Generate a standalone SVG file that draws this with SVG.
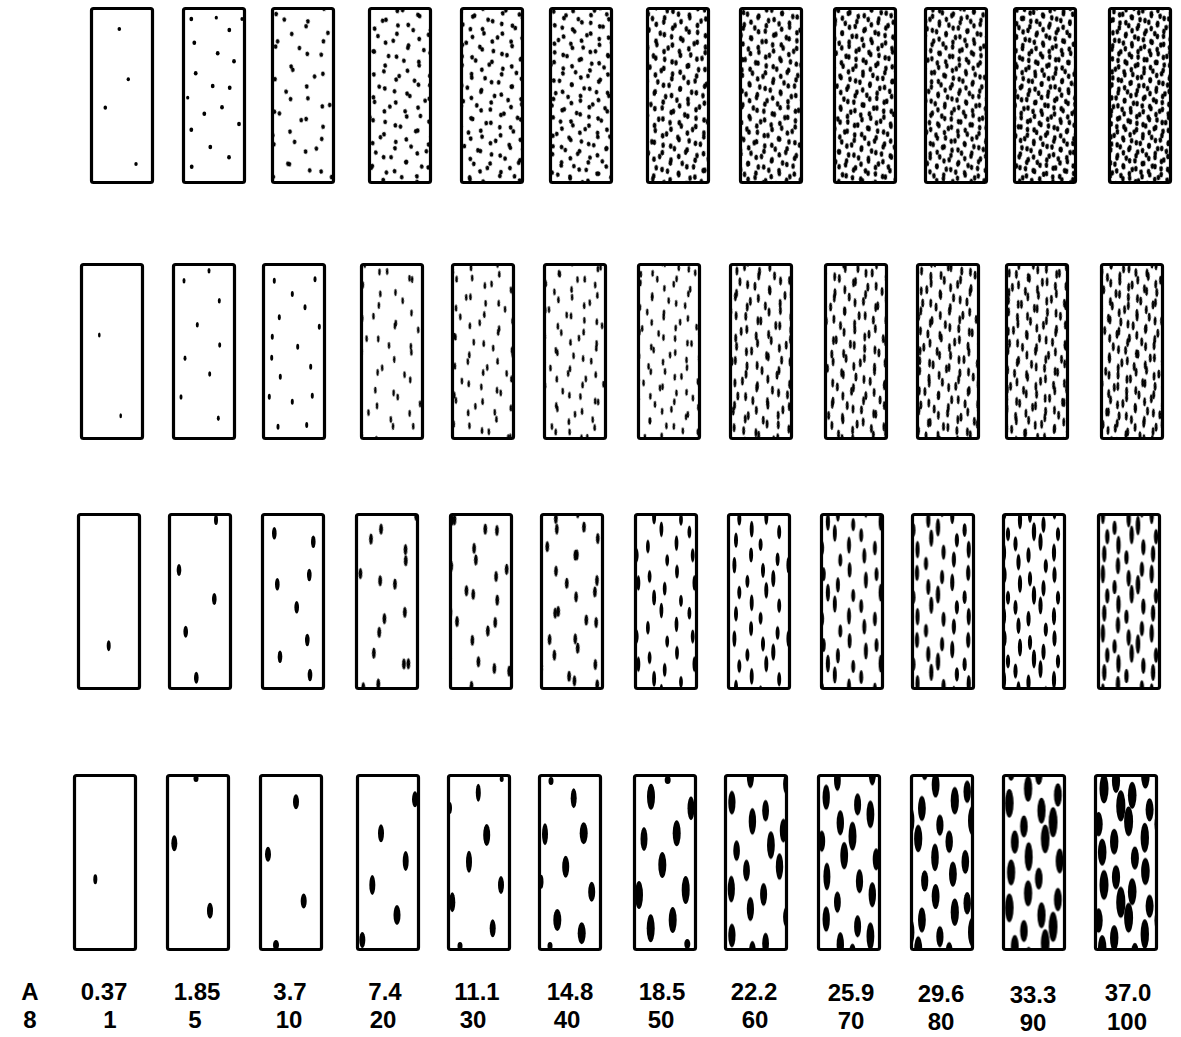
<svg xmlns="http://www.w3.org/2000/svg" xmlns:xlink="http://www.w3.org/1999/xlink" width="1181" height="1037" viewBox="0 0 1181 1037">
<style>
.bx{stroke:#000;stroke-width:3.2}
.o{fill:none}
ellipse{fill:#000}
text{font-family:"Liberation Sans",Arial,sans-serif;font-size:24px;font-weight:bold;fill:#000;text-anchor:middle}
</style>
<defs>
<pattern id="a1" patternUnits="userSpaceOnUse" width="20" height="20" patternTransform="rotate(17)"><ellipse cx="4" cy="4" rx="1.9" ry="2.35" transform="rotate(-17 4 4)"/></pattern>
<pattern id="b1" patternUnits="userSpaceOnUse" width="20" height="20" patternTransform="rotate(-38)"><ellipse cx="4" cy="4" rx="1.9" ry="2.35" transform="rotate(38 4 4)"/></pattern>
<pattern id="a1l" patternUnits="userSpaceOnUse" width="20" height="20" patternTransform="rotate(17)"><ellipse cx="4" cy="4" rx="1.8" ry="2.8" transform="rotate(-17 4 4)"/></pattern>
<pattern id="b1l" patternUnits="userSpaceOnUse" width="20" height="20" patternTransform="rotate(-38)"><ellipse cx="4" cy="4" rx="1.8" ry="2.8" transform="rotate(38 4 4)"/></pattern>
<pattern id="a2" patternUnits="userSpaceOnUse" width="20" height="20" patternTransform="rotate(17)"><ellipse cx="5" cy="6" rx="1.3" ry="3.5" transform="rotate(-17 5 6)"/></pattern>
<pattern id="b2" patternUnits="userSpaceOnUse" width="20" height="20" patternTransform="rotate(-38)"><ellipse cx="5" cy="6" rx="1.3" ry="3.5" transform="rotate(38 5 6)"/></pattern>
<pattern id="a2l" patternUnits="userSpaceOnUse" width="20" height="20" patternTransform="rotate(17)"><ellipse cx="5" cy="6" rx="1.45" ry="4.5" transform="rotate(-17 5 6)"/></pattern>
<pattern id="b2l" patternUnits="userSpaceOnUse" width="20" height="20" patternTransform="rotate(-38)"><ellipse cx="5" cy="6" rx="1.45" ry="4.5" transform="rotate(38 5 6)"/></pattern>
<pattern id="a3" patternUnits="userSpaceOnUse" width="30" height="30" patternTransform="rotate(17)"><ellipse cx="7" cy="10" rx="1.9" ry="5.5" transform="rotate(-17 7 10)"/></pattern>
<pattern id="b3" patternUnits="userSpaceOnUse" width="30" height="30" patternTransform="rotate(-38)"><ellipse cx="7" cy="10" rx="1.9" ry="5.5" transform="rotate(38 7 10)"/></pattern>

<pattern id="p1_3a" xlink:href="#a1" width="22.8" height="22.8"/><pattern id="p1_3b" xlink:href="#b1" width="20.5" height="25.3"/>
<pattern id="p1_4a" xlink:href="#a1" width="16" height="16"/><pattern id="p1_4b" xlink:href="#b1" width="14.4" height="17.8"/>
<pattern id="p1_5a" xlink:href="#a1" width="14.2" height="14.2"/><pattern id="p1_5b" xlink:href="#b1" width="12.8" height="15.8"/>
<pattern id="p1_6a" xlink:href="#a1" width="12.9" height="12.9"/><pattern id="p1_6b" xlink:href="#b1" width="11.6" height="14.3"/>
<pattern id="p1_7a" xlink:href="#a1l" width="11.8" height="11.8"/><pattern id="p1_7b" xlink:href="#b1l" width="10.6" height="13.1"/>
<pattern id="p1_8a" xlink:href="#a1l" width="11" height="11"/><pattern id="p1_8b" xlink:href="#b1l" width="9.9" height="12.2"/>
<pattern id="p1_9a" xlink:href="#a1l" width="10.4" height="10.4"/><pattern id="p1_9b" xlink:href="#b1l" width="9.4" height="11.5"/>
<pattern id="p1_10a" xlink:href="#a1l" width="9.9" height="9.9"/><pattern id="p1_10b" xlink:href="#b1l" width="8.9" height="11"/>
<pattern id="p1_11a" xlink:href="#a1l" width="9.5" height="9.5"/><pattern id="p1_11b" xlink:href="#b1l" width="8.6" height="10.5"/>
<pattern id="p1_12a" xlink:href="#a1l" width="9.1" height="9.1"/><pattern id="p1_12b" xlink:href="#b1l" width="8.2" height="10.1"/>

<pattern id="p2_4a" xlink:href="#a2" width="23.4" height="23.4"/><pattern id="p2_4b" xlink:href="#b2" width="21.1" height="26"/>
<pattern id="p2_5a" xlink:href="#a2" width="20.3" height="20.3"/><pattern id="p2_5b" xlink:href="#b2" width="18.3" height="22.5"/>
<pattern id="p2_6a" xlink:href="#a2" width="18.5" height="18.5"/><pattern id="p2_6b" xlink:href="#b2" width="16.7" height="20.5"/>
<pattern id="p2_7a" xlink:href="#a2" width="17.2" height="17.2"/><pattern id="p2_7b" xlink:href="#b2" width="15.5" height="19.1"/>
<pattern id="p2_8a" xlink:href="#a2l" width="15.7" height="15.7"/><pattern id="p2_8b" xlink:href="#b2l" width="14.1" height="17.4"/>
<pattern id="p2_9a" xlink:href="#a2l" width="14.9" height="14.9"/><pattern id="p2_9b" xlink:href="#b2l" width="13.4" height="16.5"/>
<pattern id="p2_10a" xlink:href="#a2l" width="14" height="14"/><pattern id="p2_10b" xlink:href="#b2l" width="12.6" height="15.5"/>
<pattern id="p2_11a" xlink:href="#a2l" width="13.6" height="13.6"/><pattern id="p2_11b" xlink:href="#b2l" width="12.2" height="15.1"/>
<pattern id="p2_12a" xlink:href="#a2l" width="12.9" height="12.9"/><pattern id="p2_12b" xlink:href="#b2l" width="11.6" height="14.3"/>

<pattern id="p3_4a" xlink:href="#a3" width="36.1" height="36.1"/><pattern id="p3_4b" xlink:href="#b3" width="32.5" height="40.1"/>
<pattern id="p3_5a" xlink:href="#a3" width="32.2" height="32.2"/><pattern id="p3_5b" xlink:href="#b3" width="29" height="35.7"/>
<pattern id="p3_6a" xlink:href="#a3" width="29.4" height="29.4"/><pattern id="p3_6b" xlink:href="#b3" width="26.5" height="32.6"/>

<pattern id="q3_7" patternUnits="userSpaceOnUse" width="56" height="81.2"><ellipse cx="5" cy="3.2" rx="1.9" ry="7"/><ellipse cx="5" cy="84.4" rx="1.9" ry="7"/><ellipse cx="9" cy="32.5" rx="1.9" ry="6"/><ellipse cx="4.5" cy="56" rx="1.9" ry="7.7"/><ellipse cx="22.4" cy="14.6" rx="1.9" ry="7.7"/><ellipse cx="17.4" cy="44.7" rx="1.9" ry="6.3"/><ellipse cx="20.7" cy="68.2" rx="1.9" ry="7"/><ellipse cx="33.6" cy="8.1" rx="1.9" ry="6.3"/><ellipse cx="38.1" cy="29.2" rx="2" ry="8"/><ellipse cx="31.9" cy="59.3" rx="1.9" ry="6.7"/><ellipse cx="48.7" cy="20.3" rx="1.9" ry="7"/><ellipse cx="45.4" cy="42.2" rx="1.9" ry="7.7"/><ellipse cx="51.2" cy="73.1" rx="1.9" ry="6"/></pattern>
<pattern id="q3_8" patternUnits="userSpaceOnUse" width="54" height="73.6"><ellipse cx="49.1" cy="39.7" rx="2" ry="7.5"/><ellipse cx="45.4" cy="66.2" rx="2" ry="6.4"/><ellipse cx="49.7" cy="14" rx="2" ry="8.3"/><ellipse cx="32.4" cy="50" rx="2" ry="8.3"/><ellipse cx="37.3" cy="3.7" rx="2" ry="6.8"/><ellipse cx="37.3" cy="77.3" rx="2" ry="6.8"/><ellipse cx="34" cy="25" rx="2" ry="7.5"/><ellipse cx="21.6" cy="44.2" rx="2" ry="6.8"/><ellipse cx="17.3" cy="63.3" rx="2.1" ry="8.6"/><ellipse cx="23.2" cy="16.9" rx="2" ry="7.1"/><ellipse cx="7" cy="55.2" rx="2" ry="7.5"/><ellipse cx="10.3" cy="1.5" rx="2" ry="8.3"/><ellipse cx="10.3" cy="75.1" rx="2" ry="8.3"/><ellipse cx="4.6" cy="29.4" rx="2" ry="6.4"/></pattern>
<pattern id="q3_9" patternUnits="userSpaceOnUse" width="52.8" height="70.9"><ellipse cx="4.8" cy="2.8" rx="2" ry="7.8"/><ellipse cx="4.8" cy="73.7" rx="2" ry="7.8"/><ellipse cx="8.4" cy="28.4" rx="2" ry="6.6"/><ellipse cx="4.2" cy="48.9" rx="2" ry="8.6"/><ellipse cx="21.1" cy="12.8" rx="2" ry="8.6"/><ellipse cx="16.4" cy="39" rx="2" ry="7"/><ellipse cx="19.5" cy="59.6" rx="2" ry="7.8"/><ellipse cx="31.7" cy="7.1" rx="2" ry="7"/><ellipse cx="35.9" cy="25.5" rx="2.1" ry="9"/><ellipse cx="30.1" cy="51.8" rx="2" ry="7.4"/><ellipse cx="45.9" cy="17.7" rx="2" ry="7.8"/><ellipse cx="42.8" cy="36.9" rx="2" ry="8.6"/><ellipse cx="48.3" cy="63.8" rx="2" ry="6.6"/></pattern>
<pattern id="q3_10" patternUnits="userSpaceOnUse" width="51.2" height="67.1"><ellipse cx="46.6" cy="36.2" rx="2.1" ry="8"/><ellipse cx="43" cy="60.4" rx="2.1" ry="6.8"/><ellipse cx="43" cy="-6.7" rx="2.1" ry="6.8"/><ellipse cx="47.1" cy="12.7" rx="2.1" ry="8.8"/><ellipse cx="30.7" cy="45.6" rx="2.1" ry="8.8"/><ellipse cx="35.3" cy="3.4" rx="2.1" ry="7.2"/><ellipse cx="35.3" cy="70.5" rx="2.1" ry="7.2"/><ellipse cx="32.3" cy="22.8" rx="2.1" ry="8"/><ellipse cx="20.5" cy="40.3" rx="2.1" ry="7.2"/><ellipse cx="16.4" cy="57.7" rx="2.2" ry="9.2"/><ellipse cx="22" cy="15.4" rx="2.1" ry="7.6"/><ellipse cx="6.7" cy="50.3" rx="2.1" ry="8"/><ellipse cx="9.7" cy="1.3" rx="2.1" ry="8.8"/><ellipse cx="9.7" cy="68.4" rx="2.1" ry="8.8"/><ellipse cx="4.4" cy="26.8" rx="2.1" ry="6.8"/></pattern>
<pattern id="q3_11" patternUnits="userSpaceOnUse" width="50" height="63.6"><ellipse cx="4.5" cy="2.5" rx="2.1" ry="8.2"/><ellipse cx="4.5" cy="66.1" rx="2.1" ry="8.2"/><ellipse cx="8" cy="25.4" rx="2.1" ry="7"/><ellipse cx="4" cy="43.9" rx="2.1" ry="9"/><ellipse cx="20" cy="11.4" rx="2.1" ry="9"/><ellipse cx="15.5" cy="35" rx="2.1" ry="7.4"/><ellipse cx="18.5" cy="53.4" rx="2.1" ry="8.2"/><ellipse cx="30" cy="6.4" rx="2.1" ry="7.4"/><ellipse cx="30" cy="70" rx="2.1" ry="7.4"/><ellipse cx="34" cy="22.9" rx="2.2" ry="9.4"/><ellipse cx="28.5" cy="46.4" rx="2.1" ry="7.8"/><ellipse cx="43.5" cy="15.9" rx="2.1" ry="8.2"/><ellipse cx="40.5" cy="33.1" rx="2.1" ry="9"/><ellipse cx="45.8" cy="57.2" rx="2.1" ry="7"/><ellipse cx="45.8" cy="-6.4" rx="2.1" ry="7"/></pattern>
<pattern id="q3_12" patternUnits="userSpaceOnUse" width="48.8" height="59.3"><ellipse cx="44.4" cy="32" rx="2.2" ry="8.5"/><ellipse cx="41" cy="53.4" rx="2.2" ry="7.2"/><ellipse cx="41" cy="-5.9" rx="2.2" ry="7.2"/><ellipse cx="44.9" cy="11.3" rx="2.2" ry="9.4"/><ellipse cx="29.3" cy="40.3" rx="2.2" ry="9.4"/><ellipse cx="33.7" cy="3" rx="2.2" ry="7.7"/><ellipse cx="33.7" cy="62.3" rx="2.2" ry="7.7"/><ellipse cx="30.7" cy="20.2" rx="2.2" ry="8.5"/><ellipse cx="19.5" cy="35.6" rx="2.2" ry="7.7"/><ellipse cx="15.6" cy="51" rx="2.3" ry="9.8"/><ellipse cx="15.6" cy="-8.3" rx="2.3" ry="9.8"/><ellipse cx="21" cy="13.6" rx="2.2" ry="8.1"/><ellipse cx="6.3" cy="44.5" rx="2.2" ry="8.5"/><ellipse cx="9.3" cy="1.2" rx="2.2" ry="9.4"/><ellipse cx="9.3" cy="60.5" rx="2.2" ry="9.4"/><ellipse cx="4.1" cy="23.7" rx="2.2" ry="7.2"/></pattern>

<pattern id="q4_8" patternUnits="userSpaceOnUse" width="66" height="132.9"><ellipse cx="5.9" cy="5.3" rx="3.6" ry="12"/><ellipse cx="5.9" cy="138.2" rx="3.6" ry="12"/><ellipse cx="10.6" cy="53.2" rx="3.3" ry="10.2"/><ellipse cx="5.3" cy="91.7" rx="3.6" ry="13.2"/><ellipse cx="26.4" cy="23.9" rx="3.7" ry="13.2"/><ellipse cx="20.5" cy="73.1" rx="3.4" ry="10.8"/><ellipse cx="24.4" cy="111.6" rx="3.6" ry="12"/><ellipse cx="39.6" cy="13.3" rx="3.4" ry="10.8"/><ellipse cx="44.9" cy="47.8" rx="3.9" ry="13.8"/><ellipse cx="37.6" cy="97" rx="3.5" ry="11.4"/><ellipse cx="57.4" cy="33.2" rx="3.6" ry="12"/><ellipse cx="53.5" cy="69.1" rx="3.7" ry="13.2"/><ellipse cx="60.4" cy="119.6" rx="3.3" ry="10.2"/></pattern>
<pattern id="q4_9" patternUnits="userSpaceOnUse" width="64" height="121.9"><ellipse cx="58.2" cy="65.8" rx="3.7" ry="12.5"/><ellipse cx="53.8" cy="109.7" rx="3.4" ry="10.6"/><ellipse cx="58.9" cy="23.2" rx="3.5" ry="13.7"/><ellipse cx="38.4" cy="82.9" rx="3.9" ry="13.7"/><ellipse cx="44.2" cy="6.1" rx="3.5" ry="11.2"/><ellipse cx="44.2" cy="128" rx="3.5" ry="11.2"/><ellipse cx="40.3" cy="41.4" rx="3.7" ry="12.5"/><ellipse cx="25.6" cy="73.1" rx="3.5" ry="11.2"/><ellipse cx="20.5" cy="104.8" rx="4" ry="14.4"/><ellipse cx="27.5" cy="28" rx="3.6" ry="11.9"/><ellipse cx="8.3" cy="91.4" rx="3.7" ry="12.5"/><ellipse cx="12.2" cy="2.4" rx="3.9" ry="13.7"/><ellipse cx="12.2" cy="124.3" rx="3.9" ry="13.7"/><ellipse cx="5.4" cy="48.8" rx="3.4" ry="10.6"/></pattern>
<pattern id="q4_10" patternUnits="userSpaceOnUse" width="62" height="111.5"><ellipse cx="5.6" cy="4.5" rx="3.9" ry="12.5"/><ellipse cx="5.6" cy="116" rx="3.9" ry="12.5"/><ellipse cx="9.9" cy="44.6" rx="3.6" ry="10.6"/><ellipse cx="5" cy="76.9" rx="3.8" ry="13.7"/><ellipse cx="24.8" cy="20.1" rx="4.1" ry="13.7"/><ellipse cx="19.2" cy="61.3" rx="3.7" ry="11.2"/><ellipse cx="22.9" cy="93.7" rx="3.9" ry="12.5"/><ellipse cx="37.2" cy="11.2" rx="3.7" ry="11.2"/><ellipse cx="37.2" cy="122.7" rx="3.7" ry="11.2"/><ellipse cx="42.2" cy="40.1" rx="4.2" ry="14.4"/><ellipse cx="35.3" cy="81.4" rx="3.8" ry="11.9"/><ellipse cx="53.9" cy="27.9" rx="3.9" ry="12.5"/><ellipse cx="50.2" cy="58" rx="4.1" ry="13.7"/><ellipse cx="56.7" cy="100.4" rx="3.6" ry="10.6"/></pattern>
<pattern id="q4_11" patternUnits="userSpaceOnUse" width="60.8" height="104.6"><ellipse cx="55.3" cy="56.5" rx="4.1" ry="13"/><ellipse cx="51.1" cy="94.1" rx="3.8" ry="11"/><ellipse cx="51.1" cy="-10.5" rx="3.8" ry="11"/><ellipse cx="55.9" cy="19.9" rx="4" ry="14.3"/><ellipse cx="36.5" cy="71.1" rx="4.3" ry="14.3"/><ellipse cx="42" cy="5.2" rx="3.9" ry="11.7"/><ellipse cx="42" cy="109.8" rx="3.9" ry="11.7"/><ellipse cx="38.3" cy="35.6" rx="4.1" ry="13"/><ellipse cx="24.3" cy="62.8" rx="3.9" ry="11.7"/><ellipse cx="19.5" cy="90" rx="4.4" ry="15"/><ellipse cx="19.5" cy="-14.6" rx="4.4" ry="15"/><ellipse cx="26.1" cy="24.1" rx="4" ry="12.4"/><ellipse cx="7.9" cy="78.5" rx="4.1" ry="13"/><ellipse cx="11.6" cy="2.1" rx="4.3" ry="14.3"/><ellipse cx="11.6" cy="106.7" rx="4.3" ry="14.3"/><ellipse cx="5.2" cy="41.8" rx="3.8" ry="11"/></pattern>
<pattern id="q4_12" patternUnits="userSpaceOnUse" width="60" height="96.4"><ellipse cx="5.4" cy="3.9" rx="4.3" ry="13.5"/><ellipse cx="5.4" cy="100.3" rx="4.3" ry="13.5"/><ellipse cx="9.6" cy="38.6" rx="4" ry="11.5"/><ellipse cx="4.8" cy="66.5" rx="4.2" ry="14.9"/><ellipse cx="24" cy="17.4" rx="4.5" ry="14.9"/><ellipse cx="18.6" cy="53" rx="4.1" ry="12.2"/><ellipse cx="22.2" cy="81" rx="4.3" ry="13.5"/><ellipse cx="36" cy="9.6" rx="4.1" ry="12.2"/><ellipse cx="36" cy="106" rx="4.1" ry="12.2"/><ellipse cx="40.8" cy="34.7" rx="4.6" ry="15.5"/><ellipse cx="34.2" cy="70.4" rx="4.2" ry="12.8"/><ellipse cx="52.2" cy="24.1" rx="4.3" ry="13.5"/><ellipse cx="48.6" cy="50.1" rx="4.5" ry="14.9"/><ellipse cx="54.9" cy="86.8" rx="4" ry="11.5"/><ellipse cx="54.9" cy="-9.6" rx="4" ry="11.5"/></pattern>
</defs>
<rect width="1181" height="1037" fill="#fff"/>

<!-- Row 1 -->
<g id="r1c1"><ellipse cx="119.3" cy="29" rx="1.8" ry="2.1"/><ellipse cx="128.3" cy="79.3" rx="1.7" ry="2"/><ellipse cx="105.3" cy="107.7" rx="1.8" ry="2.1"/><ellipse cx="136" cy="164" rx="1.7" ry="2"/><rect class="bx o" x="91.5" y="8.5" width="61" height="174" rx="2"/></g>
<g id="r1c2"><ellipse cx="191.3" cy="19" rx="1.9" ry="2.2"/><ellipse cx="216.3" cy="17.7" rx="1.6" ry="1.9"/><ellipse cx="242" cy="19" rx="1.6" ry="1.9"/><ellipse cx="229.3" cy="30" rx="1.9" ry="2.2"/><ellipse cx="194.3" cy="42.7" rx="1.9" ry="2.2"/><ellipse cx="217.7" cy="53.3" rx="1.9" ry="2.2"/><ellipse cx="234" cy="61.3" rx="1.9" ry="2.2"/><ellipse cx="195.7" cy="73.3" rx="1.9" ry="2.2"/><ellipse cx="212.7" cy="86" rx="1.9" ry="2.2"/><ellipse cx="229.7" cy="87.7" rx="1.9" ry="2.2"/><ellipse cx="187.7" cy="97.7" rx="1.6" ry="1.9"/><ellipse cx="204.3" cy="113.7" rx="1.9" ry="2.2"/><ellipse cx="222" cy="107.3" rx="1.9" ry="2.2"/><ellipse cx="239" cy="124" rx="1.9" ry="2.2"/><ellipse cx="191.3" cy="129.7" rx="1.9" ry="2.2"/><ellipse cx="210.3" cy="147" rx="1.9" ry="2.2"/><ellipse cx="229" cy="157.3" rx="1.9" ry="2.2"/><ellipse cx="191.7" cy="166.7" rx="1.9" ry="2.2"/><rect class="bx o" x="183.5" y="8.5" width="61" height="174" rx="2"/></g>
<g id="r1c3"><rect x="272.5" y="8.5" width="61" height="174" fill="url(#p1_3a)"/><rect class="bx" x="272.5" y="8.5" width="61" height="174" rx="2" fill="url(#p1_3b)"/></g>
<g id="r1c4"><rect x="369.5" y="8.5" width="61" height="174" fill="url(#p1_4a)"/><rect class="bx" x="369.5" y="8.5" width="61" height="174" rx="2" fill="url(#p1_4b)"/></g>
<g id="r1c5"><rect x="461.5" y="8.5" width="61" height="174" fill="url(#p1_5a)"/><rect class="bx" x="461.5" y="8.5" width="61" height="174" rx="2" fill="url(#p1_5b)"/></g>
<g id="r1c6"><rect x="550.5" y="8.5" width="61" height="174" fill="url(#p1_6a)"/><rect class="bx" x="550.5" y="8.5" width="61" height="174" rx="2" fill="url(#p1_6b)"/></g>
<g id="r1c7"><rect x="647.5" y="8.5" width="61" height="174" fill="url(#p1_7a)"/><rect class="bx" x="647.5" y="8.5" width="61" height="174" rx="2" fill="url(#p1_7b)"/></g>
<g id="r1c8"><rect x="740.5" y="8.5" width="61" height="174" fill="url(#p1_8a)"/><rect class="bx" x="740.5" y="8.5" width="61" height="174" rx="2" fill="url(#p1_8b)"/></g>
<g id="r1c9"><rect x="834.5" y="8.5" width="61" height="174" fill="url(#p1_9a)"/><rect class="bx" x="834.5" y="8.5" width="61" height="174" rx="2" fill="url(#p1_9b)"/></g>
<g id="r1c10"><rect x="925.5" y="8.5" width="61" height="174" fill="url(#p1_10a)"/><rect class="bx" x="925.5" y="8.5" width="61" height="174" rx="2" fill="url(#p1_10b)"/></g>
<g id="r1c11"><rect x="1014.5" y="8.5" width="61" height="174" fill="url(#p1_11a)"/><rect class="bx" x="1014.5" y="8.5" width="61" height="174" rx="2" fill="url(#p1_11b)"/></g>
<g id="r1c12"><rect x="1109.5" y="8.5" width="61" height="174" fill="url(#p1_12a)"/><rect class="bx" x="1109.5" y="8.5" width="61" height="174" rx="2" fill="url(#p1_12b)"/></g>

<!-- Row 2 -->
<g id="r2c1"><ellipse cx="99.3" cy="335" rx="1.3" ry="2.5"/><ellipse cx="120.7" cy="415.7" rx="1.3" ry="2.5"/><rect class="bx o" x="81.5" y="264.5" width="61" height="174" rx="2"/></g>
<g id="r2c2"><ellipse cx="209" cy="270.7" rx="1.5" ry="2.8"/><ellipse cx="184" cy="280.7" rx="1.5" ry="2.8"/><ellipse cx="219.3" cy="300.7" rx="1.5" ry="2.8"/><ellipse cx="197.3" cy="324.7" rx="1.5" ry="2.8"/><ellipse cx="219.7" cy="345" rx="1.5" ry="2.8"/><ellipse cx="185" cy="358.3" rx="1.5" ry="2.8"/><ellipse cx="209.7" cy="374" rx="1.5" ry="2.8"/><ellipse cx="181" cy="397" rx="1.5" ry="2.8"/><ellipse cx="218.3" cy="418.3" rx="1.5" ry="2.8"/><rect class="bx o" x="173.5" y="264.5" width="61" height="174" rx="2"/></g>
<g id="r2c3"><ellipse cx="274.3" cy="280.7" rx="1.5" ry="3"/><ellipse cx="315" cy="279.3" rx="1.5" ry="3"/><ellipse cx="292.3" cy="294" rx="1.5" ry="3"/><ellipse cx="305" cy="307.3" rx="1.5" ry="3"/><ellipse cx="279.3" cy="317.3" rx="1.5" ry="3"/><ellipse cx="319.3" cy="326.7" rx="1.5" ry="3"/><ellipse cx="272.3" cy="336.7" rx="1.5" ry="3"/><ellipse cx="297.7" cy="346.7" rx="1.5" ry="3"/><ellipse cx="271.7" cy="357.7" rx="1.5" ry="3"/><ellipse cx="310.7" cy="366.7" rx="1.5" ry="3"/><ellipse cx="280.3" cy="376.7" rx="1.5" ry="3"/><ellipse cx="269.3" cy="396.7" rx="1.5" ry="3"/><ellipse cx="292.3" cy="401.7" rx="1.5" ry="3"/><ellipse cx="312.3" cy="395.7" rx="1.5" ry="3"/><ellipse cx="278" cy="426.7" rx="1.5" ry="3"/><ellipse cx="306.7" cy="425" rx="1.5" ry="3"/><rect class="bx o" x="263.5" y="264.5" width="61" height="174" rx="2"/></g>
<g id="r2c4"><rect x="361.5" y="264.5" width="61" height="174" fill="url(#p2_4a)"/><rect class="bx" x="361.5" y="264.5" width="61" height="174" rx="2" fill="url(#p2_4b)"/></g>
<g id="r2c5"><rect x="452.5" y="264.5" width="61" height="174" fill="url(#p2_5a)"/><rect class="bx" x="452.5" y="264.5" width="61" height="174" rx="2" fill="url(#p2_5b)"/></g>
<g id="r2c6"><rect x="544.5" y="264.5" width="61" height="174" fill="url(#p2_6a)"/><rect class="bx" x="544.5" y="264.5" width="61" height="174" rx="2" fill="url(#p2_6b)"/></g>
<g id="r2c7"><rect x="638.5" y="264.5" width="61" height="174" fill="url(#p2_7a)"/><rect class="bx" x="638.5" y="264.5" width="61" height="174" rx="2" fill="url(#p2_7b)"/></g>
<g id="r2c8"><rect x="730.5" y="264.5" width="61" height="174" fill="url(#p2_8a)"/><rect class="bx" x="730.5" y="264.5" width="61" height="174" rx="2" fill="url(#p2_8b)"/></g>
<g id="r2c9"><rect x="825.5" y="264.5" width="61" height="174" fill="url(#p2_9a)"/><rect class="bx" x="825.5" y="264.5" width="61" height="174" rx="2" fill="url(#p2_9b)"/></g>
<g id="r2c10"><rect x="917.5" y="264.5" width="61" height="174" fill="url(#p2_10a)"/><rect class="bx" x="917.5" y="264.5" width="61" height="174" rx="2" fill="url(#p2_10b)"/></g>
<g id="r2c11"><rect x="1006.5" y="264.5" width="61" height="174" fill="url(#p2_11a)"/><rect class="bx" x="1006.5" y="264.5" width="61" height="174" rx="2" fill="url(#p2_11b)"/></g>
<g id="r2c12"><rect x="1101.5" y="264.5" width="61" height="174" fill="url(#p2_12a)"/><rect class="bx" x="1101.5" y="264.5" width="61" height="174" rx="2" fill="url(#p2_12b)"/></g>

<!-- Row 3 -->
<g id="r3c1"><ellipse cx="108.7" cy="645.7" rx="2" ry="5.5"/><rect class="bx o" x="78.5" y="514.5" width="61" height="174" rx="2"/></g>
<g id="r3c2"><ellipse cx="216" cy="520" rx="2" ry="5"/><ellipse cx="179" cy="570" rx="2.3" ry="6"/><ellipse cx="214.3" cy="599" rx="2.3" ry="6"/><ellipse cx="185.7" cy="631.7" rx="2.3" ry="6"/><ellipse cx="196.3" cy="677.7" rx="2.3" ry="6"/><rect class="bx o" x="169.5" y="514.5" width="61" height="174" rx="2"/></g>
<g id="r3c3"><ellipse cx="274.3" cy="533.3" rx="2.3" ry="6.3"/><ellipse cx="313.3" cy="541.7" rx="2.3" ry="6.3"/><ellipse cx="309.3" cy="575" rx="2.3" ry="6.3"/><ellipse cx="277.3" cy="584.3" rx="2.3" ry="6.3"/><ellipse cx="296.7" cy="607.3" rx="2.3" ry="6.3"/><ellipse cx="307.3" cy="640" rx="2.3" ry="6.3"/><ellipse cx="280" cy="656.7" rx="2.3" ry="6.3"/><ellipse cx="310" cy="675" rx="2.3" ry="6.3"/><rect class="bx o" x="262.5" y="514.5" width="61" height="174" rx="2"/></g>
<g id="r3c4"><rect x="356.5" y="514.5" width="61" height="174" fill="url(#p3_4a)"/><rect class="bx" x="356.5" y="514.5" width="61" height="174" rx="2" fill="url(#p3_4b)"/></g>
<g id="r3c5"><rect x="450.5" y="514.5" width="61" height="174" fill="url(#p3_5a)"/><rect class="bx" x="450.5" y="514.5" width="61" height="174" rx="2" fill="url(#p3_5b)"/></g>
<g id="r3c6"><rect x="541.5" y="514.5" width="61" height="174" fill="url(#p3_6a)"/><rect class="bx" x="541.5" y="514.5" width="61" height="174" rx="2" fill="url(#p3_6b)"/></g>
<g id="r3c7"><rect class="bx" x="635.5" y="514.5" width="61" height="174" rx="2" fill="url(#q3_7)"/></g>
<g id="r3c8"><rect class="bx" x="728.5" y="514.5" width="61" height="174" rx="2" fill="url(#q3_8)"/></g>
<g id="r3c9"><rect class="bx" x="821.5" y="514.5" width="61" height="174" rx="2" fill="url(#q3_9)"/></g>
<g id="r3c10"><rect class="bx" x="912.5" y="514.5" width="61" height="174" rx="2" fill="url(#q3_10)"/></g>
<g id="r3c11"><rect class="bx" x="1003.5" y="514.5" width="61" height="174" rx="2" fill="url(#q3_11)"/></g>
<g id="r3c12"><rect class="bx" x="1098.5" y="514.5" width="61" height="174" rx="2" fill="url(#q3_12)"/></g>

<!-- Row 4 -->
<g id="r4c1"><ellipse cx="95.3" cy="879.3" rx="2" ry="5"/><rect class="bx o" x="74.5" y="775.5" width="61" height="174" rx="2"/></g>
<g id="r4c2"><ellipse cx="196" cy="778.5" rx="2.5" ry="3.5"/><ellipse cx="174.3" cy="843.3" rx="3" ry="8"/><ellipse cx="210" cy="910.7" rx="3" ry="8"/><rect class="bx o" x="167.5" y="775.5" width="61" height="174" rx="2"/></g>
<g id="r4c3"><ellipse cx="296" cy="801.7" rx="3" ry="7.5"/><ellipse cx="268" cy="854.3" rx="3" ry="7.5"/><ellipse cx="303.7" cy="901" rx="3" ry="7.5"/><ellipse cx="276" cy="945" rx="3" ry="5"/><rect class="bx o" x="260.5" y="775.5" width="61" height="174" rx="2"/></g>
<g id="r4c4"><ellipse cx="415" cy="799.3" rx="3" ry="8"/><ellipse cx="381" cy="833.3" rx="3" ry="9"/><ellipse cx="405.7" cy="861" rx="3" ry="10"/><ellipse cx="372.3" cy="885" rx="3" ry="10"/><ellipse cx="397" cy="915" rx="3.5" ry="10"/><ellipse cx="362.3" cy="940" rx="3" ry="8"/><rect class="bx o" x="357.5" y="775.5" width="61" height="174" rx="2"/></g>
<g id="r4c5"><ellipse cx="501.7" cy="779" rx="2" ry="3"/><ellipse cx="478.3" cy="792.7" rx="2.5" ry="9"/><ellipse cx="450" cy="808" rx="2" ry="6"/><ellipse cx="486.7" cy="835" rx="3.5" ry="11"/><ellipse cx="469" cy="861.7" rx="3" ry="11"/><ellipse cx="501" cy="885" rx="3" ry="9"/><ellipse cx="452.3" cy="902.3" rx="3" ry="10"/><ellipse cx="492.7" cy="928.3" rx="3" ry="9"/><ellipse cx="460" cy="946" rx="2.5" ry="4"/><rect class="bx o" x="448.5" y="775.5" width="61" height="174" rx="2"/></g>
<g id="r4c6"><ellipse cx="551" cy="781" rx="2.5" ry="4"/><ellipse cx="573.7" cy="798.3" rx="3" ry="10"/><ellipse cx="545" cy="834.3" rx="3" ry="11"/><ellipse cx="583.7" cy="833.3" rx="4" ry="11"/><ellipse cx="565.7" cy="866.7" rx="3.5" ry="11"/><ellipse cx="541.5" cy="881.7" rx="2" ry="7"/><ellipse cx="591.7" cy="891.7" rx="3.5" ry="10"/><ellipse cx="557.3" cy="920" rx="4" ry="11"/><ellipse cx="581.7" cy="933.3" rx="4" ry="11"/><ellipse cx="550" cy="946" rx="2.5" ry="4"/><rect class="bx o" x="539.5" y="775.5" width="61" height="174" rx="2"/></g>
<g id="r4c7"><ellipse cx="667.7" cy="780" rx="3" ry="4"/><ellipse cx="651" cy="796.7" rx="4" ry="13"/><ellipse cx="691" cy="808.3" rx="3.5" ry="12"/><ellipse cx="644" cy="839" rx="3.5" ry="12"/><ellipse cx="676.7" cy="833.3" rx="4" ry="13"/><ellipse cx="662.3" cy="865" rx="4" ry="13"/><ellipse cx="639" cy="895" rx="4" ry="14"/><ellipse cx="685.7" cy="890" rx="4" ry="14"/><ellipse cx="650.7" cy="928.3" rx="4" ry="14"/><ellipse cx="672.7" cy="920" rx="4" ry="13"/><ellipse cx="687.3" cy="944" rx="3" ry="5"/><rect class="bx o" x="634.5" y="775.5" width="61" height="174" rx="2"/></g>
<g id="r4c8"><rect class="bx" x="725.5" y="775.5" width="61" height="174" rx="2" fill="url(#q4_8)"/></g>
<g id="r4c9"><rect class="bx" x="818.5" y="775.5" width="61" height="174" rx="2" fill="url(#q4_9)"/></g>
<g id="r4c10"><rect class="bx" x="911.5" y="775.5" width="61" height="174" rx="2" fill="url(#q4_10)"/></g>
<g id="r4c11"><rect class="bx" x="1003.5" y="775.5" width="61" height="174" rx="2" fill="url(#q4_11)"/></g>
<g id="r4c12"><rect class="bx" x="1095.5" y="775.5" width="61" height="174" rx="2" fill="url(#q4_12)"/></g>

<g id="labels">
<text x="30" y="1000">A</text>
<text x="104" y="1000">0.37</text>
<text x="197" y="1000">1.85</text>
<text x="290" y="1000">3.7</text>
<text x="385" y="1000">7.4</text>
<text x="477" y="1000">11.1</text>
<text x="570" y="1000">14.8</text>
<text x="662" y="1000">18.5</text>
<text x="754" y="1000">22.2</text>
<text x="851" y="1001">25.9</text>
<text x="941" y="1002">29.6</text>
<text x="1033" y="1003">33.3</text>
<text x="1128" y="1001">37.0</text>
<text x="30" y="1028">8</text>
<text x="110" y="1028">1</text>
<text x="195" y="1028">5</text>
<text x="289" y="1028">10</text>
<text x="383" y="1028">20</text>
<text x="473" y="1028">30</text>
<text x="567" y="1028">40</text>
<text x="661" y="1028">50</text>
<text x="755" y="1028">60</text>
<text x="851" y="1029">70</text>
<text x="941" y="1030">80</text>
<text x="1033" y="1031">90</text>
<text x="1127" y="1030">100</text>
</g>
</svg>
